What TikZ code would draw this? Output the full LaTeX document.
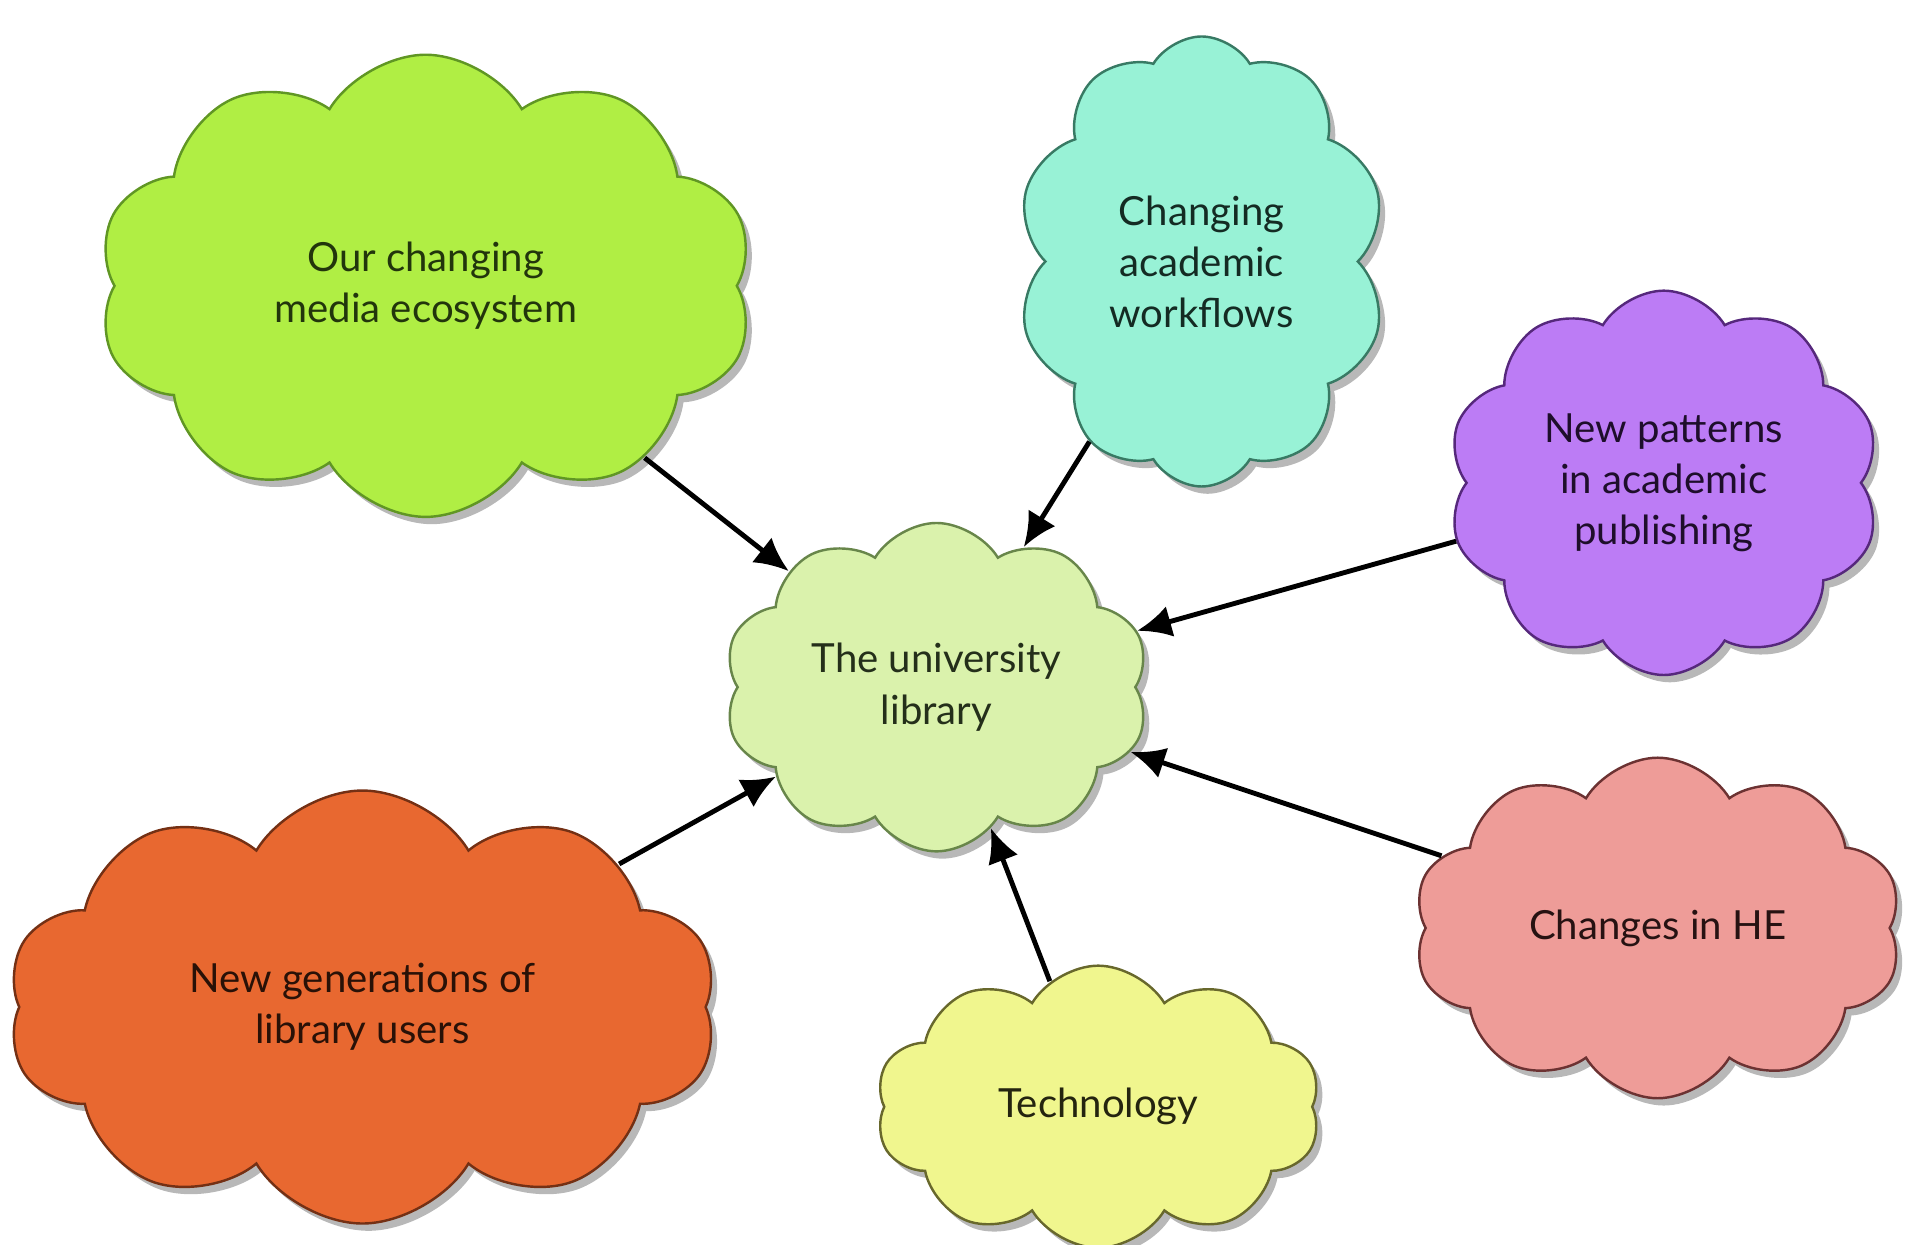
\documentclass[tikz,border=0pt]{standalone}
\usepackage{fontspec}
\setmainfont{Lato}
\usetikzlibrary{shapes.symbols,shadows,arrows.meta}
\definecolor{gFill}{RGB}{176,238,68}\definecolor{gLine}{RGB}{96,150,36}
\definecolor{tFill}{RGB}{152,242,214}\definecolor{tLine}{RGB}{56,122,100}
\definecolor{pFill}{RGB}{188,124,245}\definecolor{pLine}{RGB}{86,40,124}
\definecolor{cFill}{RGB}{218,242,172}\definecolor{cLine}{RGB}{104,134,74}
\definecolor{oFill}{RGB}{232,104,48}\definecolor{oLine}{RGB}{116,48,20}
\definecolor{yFill}{RGB}{240,246,142}\definecolor{yLine}{RGB}{104,104,44}
\definecolor{kFill}{RGB}{238,156,152}\definecolor{kLine}{RGB}{108,50,50}
\tikzset{
  bubble/.style={cloud, cloud puffs=10, cloud puff arc=118, cloud ignores aspect,
    draw=#1Line, fill=#1Fill, line width=1pt, inner sep=0pt,
    text=#1Line!35!black, align=center,
    font=\fontsize{16.5}{21}\selectfont,
    drop shadow={shadow xshift=2.5pt, shadow yshift=-3pt, opacity=0.28, fill=black}},
  link/.style={line width=2pt, -{Latex[length=14pt,width=13pt]}, draw=black}
}
\begin{document}
\begin{tikzpicture}[x=0.5pt,y=-0.5pt]
\useasboundingbox (0,0) rectangle (1568,1023);
\node[bubble=g, minimum width=270pt, minimum height=190pt] (media) at (350,235) {Our changing\\media ecosystem};
\node[bubble=t, minimum width=152pt, minimum height=185pt] (work) at (988,215) {Changing\\academic\\workflows};
\node[bubble=p, minimum width=178pt, minimum height=158pt] (pub) at (1368,397) {New patterns\\in academic\\publishing};
\node[bubble=c, minimum width=175pt, minimum height=135pt] (lib) at (770,565) {The university\\library};
\node[bubble=o, minimum width=292pt, minimum height=178pt] (users) at (298,828) {New generations of\\library users};
\node[bubble=y, minimum width=183pt, minimum height=116pt] (tech) at (903,910) {Technology};
\node[bubble=k, minimum width=201pt, minimum height=140pt] (he) at (1363,763) {Changes in HE};
\draw[link] (media) -- (lib);
\draw[link] (work) -- (lib);
\draw[link] (pub) -- (lib);
\draw[link] (he) -- (lib);
\draw[link] (tech) -- (lib);
\draw[link] (users) -- (lib);
\end{tikzpicture}
\end{document}
